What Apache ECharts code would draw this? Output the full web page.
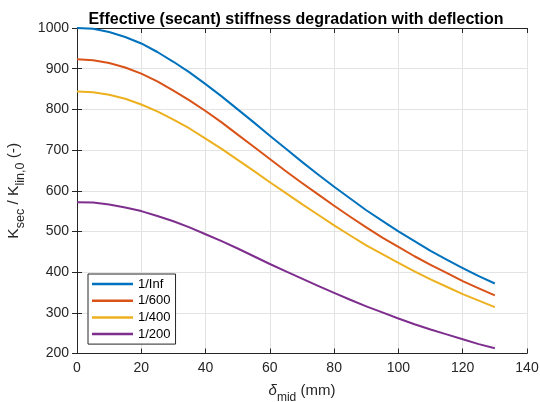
<!DOCTYPE html>
<html>
<head>
<meta charset="utf-8">
<script src="https://cdn.jsdelivr.net/npm/echarts@6/dist/echarts.min.js"></script>
<style>
  html, body { margin: 0; padding: 0; background: #fff; overflow: hidden; }
  #chart { width: 540px; height: 402px; }
</style>
</head>
<body>
<div id="chart"></div>
<script>
// Mid-span deflection (mm)
const deflection = [0, 5, 10, 15, 20, 25, 30, 35, 40, 45, 50, 55, 60, 65,
  70, 75, 80, 85, 90, 95, 100, 105, 110, 115, 120, 125, 130];

// Secant stiffness ratio for each imperfection level
const kInf = [1000, 998, 990, 978, 962, 941, 917, 891, 862, 832, 800, 768, 735, 703,
  671, 640, 610, 581, 552, 526, 500, 476, 452, 431, 410, 390, 372];
const k600 = [923, 921, 914, 903, 888, 869, 846, 822, 796, 768, 738, 708, 678, 648,
  619, 591, 563, 536, 510, 485, 462, 439, 418, 398, 378, 360, 343];
const k400 = [844, 842, 836, 826, 812, 795, 775, 753, 728, 703, 676, 649, 621, 594,
  567, 541, 515, 490, 466, 444, 423, 402, 382, 364, 346, 330, 314];
const k200 = [572, 571, 566, 559, 550, 538, 525, 510, 493, 476, 458, 439, 420, 402,
  384, 366, 349, 332, 316, 301, 286, 272, 259, 247, 235, 223, 213];

const seriesNames = ['1/Inf', '1/600', '1/400', '1/200'];
const seriesValues = [kInf, k600, k400, k200];
const colors = ['#0072BD', '#D95319', '#EDB120', '#7E2F8E'];

const xTicks = { min: 0, max: 140, interval: 20 };
const yTicks = { min: 200, max: 1000, interval: 100 };

const FONT = "'Liberation Sans', Arial, Helvetica, sans-serif";
const INK = '#262626';
const GRID = '#e3e3e3';

const chart = echarts.init(document.getElementById('chart'), null, {
  renderer: 'canvas', width: 540, height: 402
});

function pairs(xs, ys) {
  return xs.map((x, i) => [x, ys[i]]);
}

const baseAxis = {
  type: 'value',
  axisLine: { show: true, lineStyle: { color: INK, width: 1 } },
  axisTick: { show: true, inside: true, length: 5, lineStyle: { color: INK } },
  splitLine: { show: false }
};

const plainNumber = v => String(v);

const option = {
  animation: false,
  backgroundColor: '#ffffff',
  color: colors,
  textStyle: { fontFamily: FONT },
  title: {
    text: 'Effective (secant) stiffness degradation with deflection',
    left: 291,
    textAlign: 'center',
    top: 7,
    textStyle: { fontFamily: FONT, fontSize: 16, fontWeight: 'bold', color: '#000' }
  },
  grid: {
    left: 77, top: 28, width: 450, height: 325.5,
    containLabel: false,
    outerBoundsMode: 'none'
  },
  legend: {
    orient: 'vertical',
    left: 88,
    top: 274,
    padding: [3, 5, 3, 4],
    itemGap: 2.7,
    itemWidth: 41,
    itemHeight: 2.5,
    icon: 'rect',
    selectedMode: false,
    backgroundColor: '#ffffff',
    borderColor: INK,
    borderWidth: 1,
    borderRadius: 0,
    textStyle: { fontFamily: FONT, fontSize: 13, color: '#000', lineHeight: 14 },
    data: seriesNames
  },
  xAxis: [
    Object.assign({}, baseAxis, {
      position: 'bottom',
      min: xTicks.min, max: xTicks.max, interval: xTicks.interval,
      axisLabel: { fontFamily: FONT, fontSize: 14, color: INK, margin: 8, formatter: plainNumber },
      splitLine: { show: true, lineStyle: { color: GRID, width: 1 } },
      name: '{d|δ}{s|mid}{t| (mm)}',
      nameLocation: 'middle',
      nameGap: 24,
      nameTextStyle: {
        fontFamily: FONT, color: INK,
        rich: {
          d: { fontFamily: FONT, fontSize: 15, fontStyle: 'italic', color: INK, lineHeight: 26, verticalAlign: 'middle' },
          s: { fontFamily: FONT, fontSize: 12, color: INK, lineHeight: 26, verticalAlign: 'bottom' },
          t: { fontFamily: FONT, fontSize: 15, color: INK, lineHeight: 26, verticalAlign: 'middle' }
        }
      }
    }),
    Object.assign({}, baseAxis, {
      position: 'top',
      min: xTicks.min, max: xTicks.max, interval: xTicks.interval,
      axisLabel: { show: false }
    })
  ],
  yAxis: [
    Object.assign({}, baseAxis, {
      position: 'left',
      min: yTicks.min, max: yTicks.max, interval: yTicks.interval,
      axisLabel: { fontFamily: FONT, fontSize: 14, color: INK, margin: 8, formatter: plainNumber },
      splitLine: { show: true, lineStyle: { color: GRID, width: 1 } },
      name: '{m|K}{s|sec}{m| / K}{s|lin,0}{m| (-)}',
      nameLocation: 'middle',
      nameRotate: 90,
      nameGap: 40,
      nameTextStyle: {
        fontFamily: FONT, color: INK,
        rich: {
          m: { fontFamily: FONT, fontSize: 15.5, color: INK, lineHeight: 26, verticalAlign: 'middle' },
          s: { fontFamily: FONT, fontSize: 12.5, color: INK, lineHeight: 26, verticalAlign: 'bottom' }
        }
      }
    }),
    Object.assign({}, baseAxis, {
      position: 'right',
      min: yTicks.min, max: yTicks.max, interval: yTicks.interval,
      axisLabel: { show: false }
    })
  ],
  series: seriesNames.map((name, i) => ({
    name: name,
    type: 'line',
    xAxisIndex: 0,
    yAxisIndex: 0,
    data: pairs(deflection, seriesValues[i]),
    showSymbol: false,
    symbol: 'none',
    smooth: false,
    lineStyle: { width: 2, color: colors[i], join: 'round' },
    itemStyle: { color: colors[i] },
    z: 3 + i
  }))
};

chart.setOption(option);
</script>
</body>
</html>
